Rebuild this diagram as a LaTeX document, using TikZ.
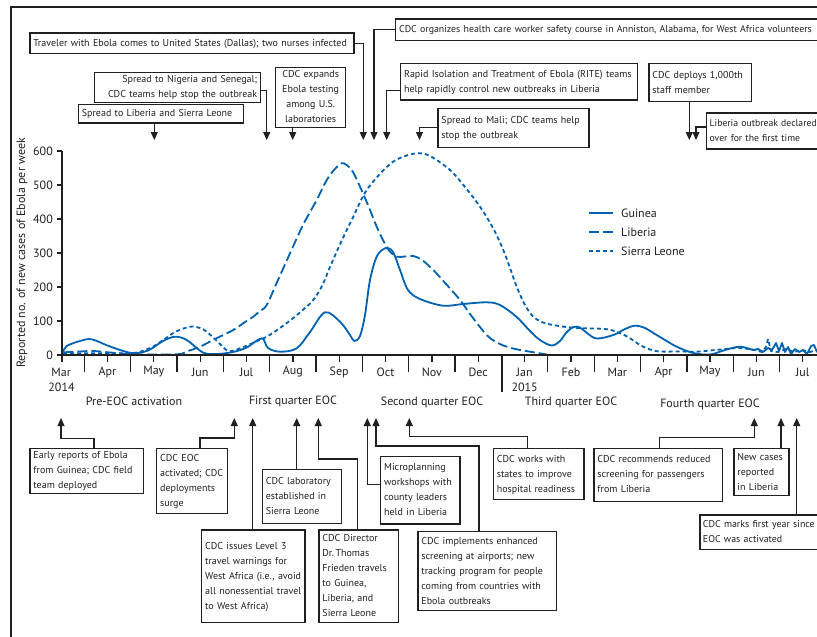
\documentclass[tikz,border=0pt]{standalone}
\usepackage{fontspec}
\setmainfont{PT Sans}
\usetikzlibrary{arrows.meta,calc}
\definecolor{ink}{HTML}{231F20}
\definecolor{cblue}{RGB}{0,98,176}
\newcommand\tl[1]{\begin{tabular}{@{}l@{}}#1\end{tabular}}
\newcommand\tr[1]{\begin{tabular}{@{}r@{}}#1\end{tabular}}
\newcommand\tc[1]{\begin{tabular}{@{}c@{}}#1\end{tabular}}
\begin{document}
\begin{tikzpicture}[x=1pt,y=-1pt,
  font=\fontsize{10}{15}\selectfont,
  box/.style={draw=ink, line width=1.3pt, anchor=north west, inner xsep=3.5pt, inner ysep=0pt, align=left, text=ink},
  conn/.style={draw=ink, line width=1.1pt, -{Triangle[length=8pt,width=7pt]}},
  lbl/.style={text=ink, inner sep=0pt, font=\fontsize{12}{14}\selectfont},
  curve/.style={cblue, line width=1.8pt, line join=round, line cap=round},
  guinea/.style={curve},
  liberia/.style={curve, line cap=butt, dash pattern=on 10pt off 4pt},
  sleone/.style={curve, line cap=butt, dash pattern=on 4pt off 3pt},
  axisline/.style={ink, line width=1.8pt},
  tickline/.style={ink, line width=1.3pt}]
\useasboundingbox (0,0) rectangle (817,637);
\clip (0,0) rectangle (817,637);
\fill[white] (0,0) rectangle (817,637);
% frame
\draw[ink, line width=1.8pt] (11,660) -- (11,7) -- (840,7);

% ---------- curves ----------
\draw[sleone] plot[smooth, tension=0.55] coordinates {(63,353.3) (100,353.3) (133.3,353) (145,350) (151.7,347.5) (163.3,340) (175,332) (190,326.7) (200,328) (206.7,331.7) (218,342) (228.3,351) (240,348.3) (255,342) (266.7,336.7) (280,328) (293.3,318) (305,308) (313.3,300) (322,286) (330,267) (342,240) (353.3,216.7) (366.7,190) (386.7,167) (400,158) (416.7,153.3) (430,156) (450,170) (465,187) (480,206.7) (493,228) (503.3,250) (510,268) (516.7,286.7) (525,305) (533.3,316.7) (543,322.5) (553.3,325) (570,327.5) (586.7,328.3) (605,329) (616.7,331.7) (628,337) (640,345) (650,349.5) (660,351.5) (680,351.5) (696.7,351.7) (715,350) (733.3,348.3) (745,348.5)};
\draw[sleone] (745,348.5) -- (755,350) -- (762,352) -- (766,347) -- (768,339) -- (771,351) -- (778,352) -- (786,349) -- (794,352) -- (802,350) -- (810,352) -- (817,350);
\draw[liberia] plot[smooth, tension=0.55] coordinates {(63.3,352.3) (80,351.5) (93.3,351) (110,352.5) (133.3,354.3) (176.7,354.3) (188,351) (200,346.7) (215,339) (233.3,330) (245,322) (253.3,316.7) (260,311) (266.7,305) (278,280) (290,253.3) (303,225) (316.7,200) (328,178) (340,164) (346.7,165) (353,172) (360,186.7) (368,205) (376.7,226.7) (384,242) (390,251.7) (396.7,256.7) (405,256.5) (413.3,256) (422,260) (433.3,270) (446,284) (460,300) (473,318) (486.7,335) (496,342) (506.7,346.7) (520,350) (535,352.5) (546.7,354.5)};
\draw[curve] (546.7,354.5) -- (817,354.5);
\draw[guinea] plot[smooth, tension=0.55] coordinates {(63,352) (66.7,346) (80,341) (91.7,339.3) (110,346.5) (131.7,353) (148,350.5) (163,341) (175,336.7) (186.7,340) (203,352.5) (216.7,354) (233,352) (246.7,347.5) (261.7,338.3) (268,348) (280,351.7) (296.7,348.3) (310,332) (325,312.3) (340,321.7) (350,335) (354.3,341) (360,336) (365,315) (370,280) (377,256) (386,248) (393,252) (400,270) (408,290) (420,299) (443,305.7) (463,304) (486.7,302.3) (500,305) (516.7,317) (530,331) (540,340) (551.7,345.5) (560,341) (566,333) (573.3,327) (580,327.5) (587,333) (596.7,338.5) (613.3,335) (625,329) (635,325.7) (645,328) (653.3,333) (665,340) (676.7,346.7) (693.3,353) (710,354.5) (725,350) (740,346.7) (753,350)};
\draw[guinea] (753,350) -- (758,349) -- (763,352) -- (768,348) -- (772,350) -- (776,343) -- (779,351) -- (782,343) -- (785,352) -- (788,347) -- (791,354) -- (795,349) -- (799,352) -- (803,350) -- (807,354) -- (811,346) -- (814,345) -- (817,352);

% ---------- axes ----------
\draw[axisline] (62,151) -- (62,355) -- (817,355);
\foreach \v/\yy in {0/355,100/321,200/287,300/253,400/219,500/185,600/151}{
  \draw[tickline] (57,\yy) -- (62,\yy);
  \node[lbl, anchor=east] at (53,\yy) {\v};
}
\foreach \k in {0,...,15}{
  \draw[tickline] ({84.3+46.35*\k},355) -- ({84.3+46.35*\k},372);
}
\draw[tickline] (502,355) -- (502,392);
\draw[tickline] (62,355) -- (62,362);
\foreach \m [count=\i from 0] in {Mar,Apr,May,Jun,Jul,Aug,Sep,Oct,Nov,Dec,Jan,Feb,Mar,Apr,May,Jun,Jul}{
  \ifnum\i>0 \draw[tickline] ({61.1+46.35*\i},355) -- ({61.1+46.35*\i},362);\fi
  \node[lbl] at ({61.1+46.35*\i},372) {\m};
}
\node[lbl] (y2014) at (61.5,387) {2014};
\node[lbl] (y2015) at (524.6,387) {2015};
\node[lbl, rotate=90] (ylab) at (22,253) {Reported no. of new cases of Ebola per week};

% phases
\node[lbl] (ph0) at (134,401) {Pre-EOC activation};
\node[lbl] (ph1) at (293,401) {First quarter EOC};
\node[lbl] (ph2) at (432,402) {Second quarter EOC};
\node[lbl] (ph3) at (571,402) {Third quarter EOC};
\node[lbl] (ph4) at (710,404) {Fourth quarter EOC};

% legend
\draw[guinea, line cap=butt] (589,213) -- (613,213);
\draw[liberia] (589,232) -- (613,232);
\draw[sleone] (589,251) -- (613,251);
\node[lbl, anchor=west] (lgG) at (621,213) {Guinea};
\node[lbl, anchor=west] (lgL) at (621,232) {Liberia};
\node[lbl, anchor=west] (lgS) at (621,251) {Sierra Leone};

% ---------- top boxes ----------
\node[box, text width=317pt, minimum height=20.4pt] (trav) at (29.3,32.3) {\tl{Traveler with Ebola comes to United States (Dallas); two nurses infected}};
\node[box, text width=433pt, minimum height=21.7pt, font=\fontsize{9.85}{15}\selectfont] (cdcorg) at (395,18.3) {\tl{CDC organizes health care worker safety course in Anniston, Alabama, for West Africa volunteers}};
\node[box, text width=229.7pt, minimum height=36.6pt] (rite) at (400,62.7) {\tl{Rapid Isolation and Treatment of Ebola (RITE) teams\\help rapidly control new outbreaks in Liberia}};
\node[box, text width=144pt, minimum height=39pt] (mali) at (437.3,107.7) {\tl{Spread to Mali; CDC teams help\\stop the outbreak}};
\node[box, align=right, text width=159pt, minimum height=29pt] (nig) at (94,71.7) {\tr{Spread to Nigeria and Senegal;\\CDC teams help stop the outbreak}};
\node[box, align=center, text width=63pt, minimum height=55pt] (expand) at (275,66.7) {\tc{CDC expands\\Ebola testing\\among U.S.\\laboratories}};
\node[box, text width=158pt, minimum height=18.3pt] (libsl) at (77.7,104) {\tl{Spread to Liberia and Sierra Leone}};
\node[box, text width=95.4pt, minimum height=38.3pt] (k1000) at (648.3,62.7) {\tl{CDC deploys 1,000th\\staff member}};
\node[box, text width=133pt, minimum height=36pt, inner xsep=3pt, font=\fontsize{9.7}{15}\selectfont] (libover) at (706,112.3) {\tl{Liberia outbreak declared\\over for the first time}};

\coordinate (t1) at (363.3,140);
\coordinate (t2) at (374,140);
\coordinate (t3) at (386.7,140);
\coordinate (t4) at (419.5,140);
\coordinate (t5) at (266.7,140);
\coordinate (t6) at (292.7,140);
\coordinate (t7) at (154.3,140);
\coordinate (t8) at (689.3,140);
\coordinate (t9) at (696,140);

\draw[conn] (trav.east) -| (t1);
\draw[conn] (cdcorg.west) -| (t2);
\draw[conn] ($(rite.west)+(0,9)$) -| (t3);
\draw[conn] (mali.west) -| (t4);
\draw[conn] ($(nig.east)+(0,3)$) -| (t5);
\draw[conn] (expand.south -| t6) -- (t6);
\draw[conn] (libsl.south -| t7) -- (t7);
\draw[conn] (k1000.south -| t8) -- (t8);
\draw[conn] ($(libover.west)+(0,-4)$) -| (t9);

% ---------- bottom boxes ----------
\node[box, text width=106.4pt, minimum height=42.3pt] (early) at (29.3,447.7) {\tl{Early reports of Ebola\\from Guinea; CDC field\\team deployed}};
\node[box, text width=64pt, minimum height=65pt] (eoc) at (156,447.7) {\tl{CDC EOC\\activated; CDC\\deployments\\surge}};
\node[box, text width=96.3pt, minimum height=92.4pt] (lvl3) at (201,529.3) {\tl{CDC issues Level 3\\travel warnings for\\West Africa (i.e., avoid\\all nonessential travel\\to West Africa)}};
\node[box, text width=72pt, minimum height=53.7pt] (lab) at (261.7,469) {\tl{CDC laboratory\\established in\\Sierra Leone}};
\node[box, text width=72.4pt, minimum height=92.4pt] (dir) at (318.3,529.3) {\tl{CDC Director\\Dr.\,Thomas\\Frieden travels\\to Guinea,\\Liberia, and\\Sierra Leone}};
\node[box, text width=72.3pt, minimum height=67.3pt] (micro) at (380,456) {\tl{Microplanning\\workshops with\\county leaders\\held in Liberia}};
\node[box, text width=131.4pt, minimum height=79.3pt] (enh) at (417.3,530.7) {\tl{CDC implements enhanced\\screening at airports; new\\tracking program for people\\coming from countries with\\Ebola outbreaks}};
\node[box, text width=83.6pt, minimum height=51.3pt] (hosp) at (492.7,447.7) {\tl{CDC works with\\states to improve\\hospital readiness}};
\node[box, text width=121.4pt, minimum height=53pt] (reduced) at (593.3,447.7) {\tl{CDC recommends reduced\\screening for passengers\\from Liberia}};
\node[box, text width=48pt, minimum height=47.3pt] (newcases) at (733.3,447.7) {\tl{New cases\\reported\\in Liberia}};
\node[box, text width=133pt, minimum height=34.7pt, inner xsep=3pt, font=\fontsize{9.9}{15}\selectfont] (year) at (699.3,514.3) {\tl{CDC marks first year since\\EOC was activated}};

\coordinate (b10) at (61,418);
\coordinate (b11) at (234.3,418);
\coordinate (b12) at (252.7,418);
\coordinate (b13) at (296.7,418);
\coordinate (b14) at (318.3,418);
\coordinate (b15) at (367.3,418);
\coordinate (b16) at (376,418);
\coordinate (b17) at (409.3,418);
\coordinate (b18) at (754.3,418);
\coordinate (b19) at (781,418);
\coordinate (b20) at (796.7,418);

\draw[conn] (early.north -| 94,0) -- ++(0,-9.4) -| (b10);
\draw[conn] (eoc.north -| 200,0) -- ++(0,-9.7) -| (b11);
\draw[conn] (lvl3.north -| b12) -- (b12);
\draw[conn] (lab.north -| b13) -- (b13);
\draw[conn] (dir.north -| 357.3,0) -- ++(0,-70.3) -| (b14);
\draw[conn] ($(micro.west)+(0,-5.6)$) -| (b15);
\draw[conn] (enh.north -| 479,0) -- ++(0,-84.7) -| (b16);
\draw[conn] (hosp.north -| 527.7,0) -- ++(0,-11) -| (b17);
\draw[conn] (reduced.north -| 659.3,0) -- ++(0,-10.4) -| (b18);
\draw[conn] (newcases.north -| b19) -- (b19);
\draw[conn] (year.north -| b20) -- (b20);
\end{tikzpicture}
\end{document}
